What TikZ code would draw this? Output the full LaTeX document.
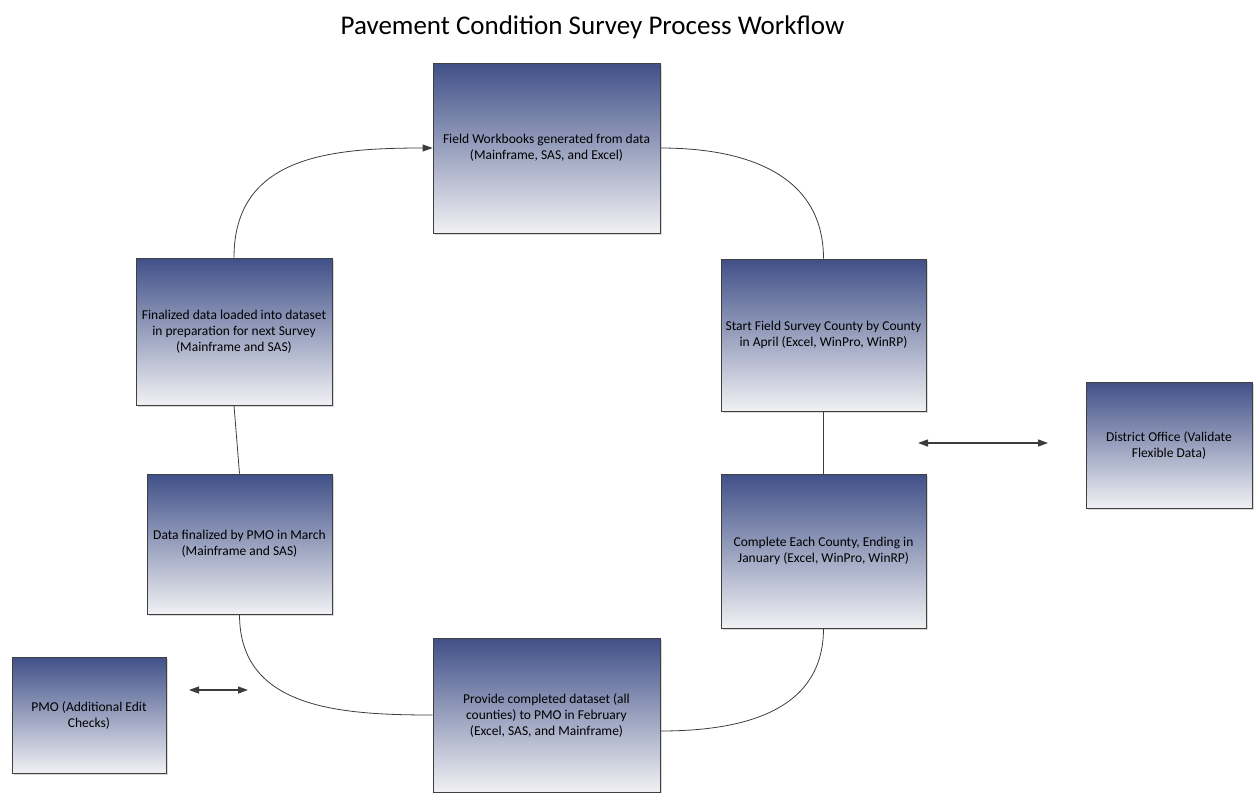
\documentclass[tikz,border=0pt]{standalone}
\usepackage{fontspec}
\setmainfont{Carlito}
\usetikzlibrary{positioning, calc, arrows.meta, shadows}

\definecolor{boxtop}{RGB}{64,80,136}
\definecolor{boxbot}{RGB}{241,241,244}
\definecolor{linegray}{RGB}{60,60,60}

\begin{document}
\begin{tikzpicture}[x=1pt, y=1pt, >={Triangle[length=10pt,width=7pt]},
    stepbox/.style={draw=gray!50!black, line width=0.8pt, top color=boxtop, bottom color=boxbot,
        align=center, inner sep=2pt, font=\fontsize{13.5}{16}\selectfont,
        drop shadow={shadow xshift=2pt, shadow yshift=-2pt, opacity=0.3}},
    flow/.style={draw=linegray, line width=0.8pt},
    both/.style={draw=linegray, line width=1.3pt, <->}]
    % Page
    \useasboundingbox (0,0) rectangle (1254,-793);

    % Title
    \node (title) at (592.5,-27) {\fontsize{27}{32}\selectfont Pavement Condition Survey Process Workflow};

    % Boxes of the cycle
    \node[stepbox, minimum width=227, minimum height=170] (field) at (546.5,-148)
        {Field Workbooks generated from data\\(Mainframe, SAS, and Excel)};
    \node[stepbox, minimum width=205, minimum height=152] (start) at (823.5,-335)
        {Start Field Survey County by County\\in April (Excel, WinPro, WinRP)};
    \node[stepbox, minimum width=205, minimum height=154] (complete) at (823.5,-551)
        {Complete Each County, Ending in\\January (Excel, WinPro, WinRP)};
    \node[stepbox, minimum width=227, minimum height=154] (provide) at (546.5,-715)
        {Provide completed dataset (all\\counties) to PMO in February\\(Excel, SAS, and Mainframe)};
    \node[stepbox, minimum width=185, minimum height=140] (finalized) at (239.5,-544)
        {Data finalized by PMO in March\\(Mainframe and SAS)};
    \node[stepbox, minimum width=196, minimum height=147] (loaded) at (234,-331.5)
        {Finalized data loaded into dataset\\in preparation for next Survey\\(Mainframe and SAS)};

    % Side boxes
    \node[stepbox, minimum width=166, minimum height=126] (district) at (1169,-445)
        {District Office (Validate\\Flexible Data)};
    \node[stepbox, minimum width=154, minimum height=116] (pmo) at (89,-715)
        {PMO (Additional Edit\\Checks)};

    % Cycle connectors
    \draw[flow, ->] (loaded.north) to[out=90, in=180, looseness=1.15] (field.west);
    \draw[flow] (field.east) to[out=0, in=90, looseness=1.1] (start.north);
    \draw[flow] (start.south) -- (complete.north);
    \draw[flow] (complete.south) to[out=-90, in=0, looseness=1.1] ([yshift=-16pt]provide.east);
    \draw[flow] (provide.west) to[out=180, in=-90, looseness=1.1] (finalized.south);
    \draw[flow] (finalized.north) -- (loaded.south);

    % Two-way arrows
    \coordinate (distA) at (918,-443);
    \coordinate (distB) at (1048,-443);
    \draw[both] (distA) -- (distB);
    \coordinate (pmoA) at (189,-690);
    \coordinate (pmoB) at (248,-690);
    \draw[both] (pmoA) -- (pmoB);
\end{tikzpicture}
\end{document}
